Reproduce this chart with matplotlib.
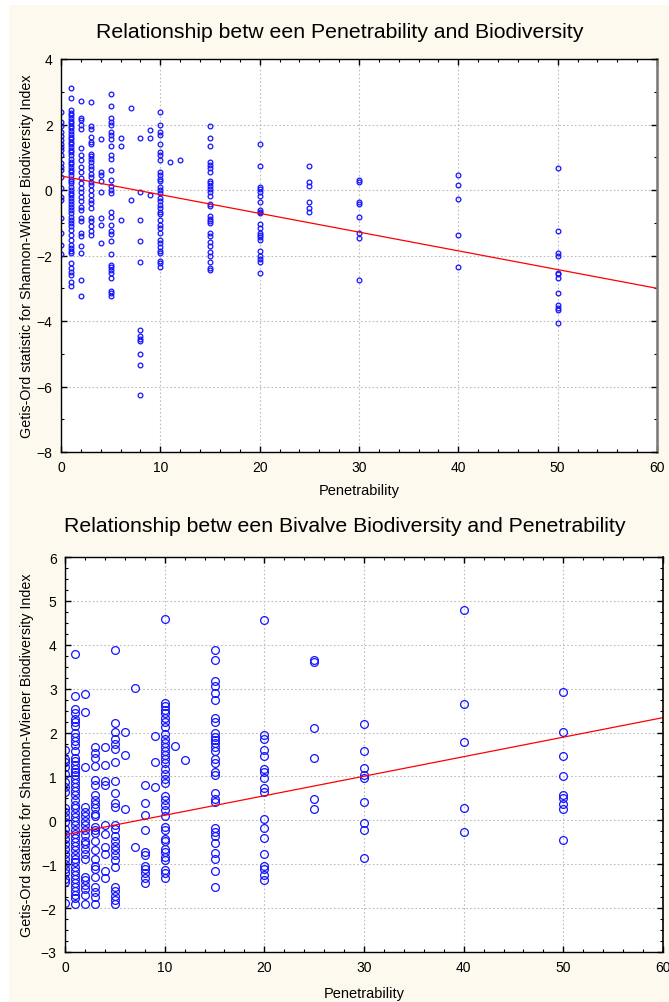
import numpy as np
import matplotlib
matplotlib.use('Agg')
import matplotlib.pyplot as plt
from matplotlib.patches import Rectangle
from matplotlib.ticker import MultipleLocator

plt.rcParams['font.family'] = ['Liberation Sans', 'DejaVu Sans']

# top chart: Gi* of Shannon-Wiener index vs penetrability
top_pen = [0, 1, 2, 3, 4, 5, 6, 7, 8, 9, 10, 11, 12, 15, 20, 25, 30, 40, 50]
top_gi = [
    [2.39, 2.09, 1.95, 1.77, 1.65, 1.52, 1.41, 1.31, 1.21, 1.08, 0.81, 0.71, 0.61, 0.40,
     0.05, -0.20, -0.30, -0.86, -1.31, -1.67, -1.95],
    [3.10, 2.80, 2.44, 2.36, 2.28, 2.19, 2.11, 2.04, 1.96, 1.88, 1.80, 1.71, 1.63, 1.56,
     1.48, 1.40, 1.31, 1.23, 1.15, 1.06, 0.96, 0.86, 0.78, 0.69, 0.61, 0.54, 0.46, 0.35,
     0.27, 0.20, 0.10, 0.00, -0.08, -0.15, -0.25, -0.35, -0.43, -0.51, -0.61, -0.71, -0.81,
     -0.91, -1.01, -1.11, -1.21, -1.36, -1.52, -1.67, -1.77, -1.87, -1.93, -2.24, -2.39,
     -2.49, -2.59, -2.80, -2.93],
    [2.73, 2.20, 2.14, 1.99, 1.87, 1.28, 1.08, 0.91, 0.71, 0.54, 0.37, 0.20, 0.07, -0.05,
     -0.20, -0.35, -0.51, -0.61, -0.86, -0.94, -1.31, -1.41, -1.72, -1.93, -2.75, -3.24],
    [2.68, 1.95, 1.87, 1.62, 1.48, 1.41, 1.11, 1.04, 0.94, 0.84, 0.74, 0.64, 0.50, 0.40,
     0.25, 0.15, 0.00, -0.15, -0.30, -0.40, -0.54, -0.86, -0.94, -1.11, -1.24, -1.36],
    [1.55, 0.56, 0.45, 0.27, -0.05, -0.84, -1.06, -1.62],
    [2.93, 2.56, 2.19, 2.09, 1.99, 1.77, 1.69, 1.57, 1.34, 1.06, 0.96, 0.61, 0.32, 0.13,
     0.00, -0.10, -0.66, -0.81, -1.06, -1.24, -1.34, -1.57, -1.96, -2.29, -2.36, -2.44,
     -2.52, -2.68, -3.09, -3.16, -3.24],
    [1.59, 1.34, -0.91],
    [2.49, -0.30],
    [1.59, -0.05, -0.91, -1.57, -2.19, -4.28, -4.45, -4.54, -4.62, -5.02, -5.33, -6.26],
    [1.84, 1.59, -0.15],
    [2.37, 1.99, 1.77, 1.69, 1.41, 1.16, 1.06, 0.91, 0.56, 0.47, 0.35, 0.27, 0.10, 0.00,
     -0.10, -0.23, -0.33, -0.45, -0.54, -0.66, -0.74, -0.91, -1.06, -1.16, -1.31, -1.52,
     -1.62, -1.75, -1.87, -1.93, -2.16, -2.24, -2.34],
    [0.86],
    [0.91],
    [1.94, 1.58, 1.33, 0.85, 0.77, 0.66, 0.54, 0.29, 0.21, 0.11, 0.03, -0.05, -0.17, -0.43,
     -0.50, -0.79, -0.89, -0.94, -1.01, -1.32, -1.40, -1.58, -1.70, -1.89, -2.01, -2.19,
     -2.37, -2.45],
    [1.39, 0.72, 0.08, 0.03, -0.05, -0.17, -0.38, -0.60, -0.66, -0.70, -1.04, -1.17, -1.32,
     -1.38, -1.45, -1.52, -1.86, -2.01, -2.11, -2.19, -2.52],
    [0.72, 0.23, 0.11, -0.38, -0.56, -0.68],
    [0.32, 0.23, -0.36, -0.43, -0.81, -1.30, -1.48, -2.76],
    [0.47, 0.16, -0.26, -1.37, -2.34],
    [0.66, -1.24, -1.91, -2.03, -2.52, -2.57, -2.70, -3.13, -3.51, -3.59, -3.66, -4.05],
]
top_fit = (0.43, -0.0572)   # intercept, slope

# bottom chart: bivalve Gi* vs penetrability
bot_pen = [0, 1, 2, 3, 4, 5, 6, 7, 8, 9, 10, 11, 12, 15, 20, 25, 30, 40, 50]
bot_gi = [
    [1.61, 1.40, 1.33, 1.21, 1.06, 0.87, 0.76, 0.65, 0.27, 0.19, 0.08, -0.04, -0.19, -0.30,
     -0.42, -0.53, -0.65, -0.76, -0.88, -0.99, -1.10, -1.21, -1.33, -1.40, -1.88],
    [3.79, 2.84, 2.53, 2.44, 2.32, 2.25, 2.15, 2.00, 1.89, 1.81, 1.71, 1.58, 1.43, 1.35,
     1.26, 1.18, 1.10, 1.04, 0.95, 0.86, 0.76, 0.66, 0.57, 0.46, 0.36, 0.27, 0.17, 0.08,
     -0.02, -0.11, -0.21, -0.30, -0.40, -0.49, -0.58, -0.68, -0.78, -0.87, -0.96, -1.06,
     -1.16, -1.25, -1.34, -1.42, -1.52, -1.62, -1.71, -1.78, -1.90],
    [2.88, 2.47, 1.22, 0.30, 0.19, 0.10, -0.02, -0.11, -0.23, -0.34, -0.46, -0.55, -0.66,
     -0.76, -0.87, -1.29, -1.37, -1.47, -1.56, -1.71, -1.90],
    [1.66, 1.54, 1.43, 1.24, 0.91, 0.81, 0.58, 0.46, 0.38, 0.28, 0.15, 0.10, -0.15, -0.21,
     -0.28, -0.46, -0.68, -0.87, -1.03, -1.10, -1.29, -1.52, -1.63, -1.75, -1.90],
    [1.66, 1.25, 0.89, 0.80, -0.10, -0.30, -0.61, -0.76, -1.16, -1.31],
    [3.89, 2.21, 2.02, 1.86, 1.73, 1.62, 1.33, 0.89, 0.62, 0.40, 0.30, -0.10, -0.19, -0.36,
     -0.46, -0.58, -0.68, -0.80, -0.91, -1.06, -1.52, -1.62, -1.72, -1.82, -1.90],
    [2.02, 1.48, 0.25],
    [3.01, -0.61],
    [0.80, 0.39, 0.13, -0.21, -0.72, -0.80, -1.04, -1.12, -1.21, -1.31, -1.42],
    [1.93, 1.34, 0.76],
    [4.58, 2.67, 2.60, 2.52, 2.44, 2.34, 2.25, 2.12, 1.96, 1.86, 1.77, 1.68, 1.58, 1.48,
     1.39, 1.30, 1.18, 1.06, 0.95, 0.84, 0.55, 0.46, 0.34, 0.23, 0.11, -0.15, -0.21, -0.42,
     -0.48, -0.65, -0.72, -0.84, -0.91, -1.14, -1.21, -1.31],
    [1.70],
    [1.38],
    [3.88, 3.66, 3.18, 3.06, 2.90, 2.74, 2.34, 2.24, 2.00, 1.91, 1.83, 1.76, 1.68, 1.58,
     1.39, 1.30, 1.09, 1.03, 0.62, 0.49, 0.42, -0.17, -0.27, -0.36, -0.52, -0.75, -0.89,
     -1.16, -1.53],
    [4.57, 1.94, 1.85, 1.60, 1.47, 1.16, 1.09, 0.97, 0.74, 0.65, 0.02, -0.17, -0.40, -0.76,
     -1.03, -1.10, -1.25, -1.36],
    [3.66, 3.61, 2.11, 1.43, 0.48, 0.25],
    [2.20, 1.57, 1.20, 1.03, 0.97, 0.42, -0.07, -0.21, -0.85],
    [4.80, 2.65, 1.79, 0.29, -0.27],
    [2.93, 2.01, 1.47, 1.01, 0.57, 0.52, 0.38, 0.25, -0.45],
]
bot_fit = (-0.33, 0.0445)

ylabel = 'Getis-Ord statistic for Shannon-Wiener Biodiversity Index'
cream = '#fdf9ee'


def flatten(pen, vals):
    xs, ys = [], []
    for p, col in zip(pen, vals):
        xs += [p] * len(col)
        ys += col
    return np.array(xs, float), np.array(ys, float)


def style_axes(ax, ylim, ymajor, yminor):
    ax.set_xlim(0, 60)
    ax.set_ylim(*ylim)
    ax.xaxis.set_major_locator(MultipleLocator(10))
    ax.xaxis.set_minor_locator(MultipleLocator(2))
    ax.yaxis.set_major_locator(MultipleLocator(ymajor))
    ax.yaxis.set_minor_locator(MultipleLocator(yminor))
    ax.tick_params(which='both', direction='in', top=True, right=True,
                   labelsize=10, colors='black')
    ax.tick_params(which='major', length=4, width=1, pad=6)
    ax.tick_params(which='minor', length=2.5, width=0.8)
    ax.grid(True, which='major', linestyle=(0, (1.5, 2)), color='#bdbdbd', linewidth=0.8)
    ax.set_axisbelow(True)
    for s in ax.spines.values():
        s.set_linewidth(1.0)
        s.set_color('black')
    ax.spines['right'].set_color('#777777')
    ax.spines['right'].set_linewidth(1.8)


fig = plt.figure(figsize=(6.69, 10.03), dpi=100, facecolor='white')
fig.patches.append(Rectangle((9 / 669, 0), 1, 1 - 6 / 1003, transform=fig.transFigure,
                             facecolor=cream, edgecolor='none', zorder=-10))

# top panel
ax1 = fig.add_axes([61 / 669, 1 - 453 / 1003, 596 / 669, 393 / 1003])
x, y = flatten(top_pen, top_gi)
ax1.plot(x, y, 'o', markersize=3.4, markerfacecolor='none',
         markeredgecolor='#1414ff', markeredgewidth=0.9)
lx = np.array([0, 60])
ax1.plot(lx, top_fit[0] + top_fit[1] * lx, color='red', linewidth=0.9)
style_axes(ax1, (-8, 4), 2, 1)
ax1.set_xlabel('Penetrability', fontsize=10.5)
ax1.xaxis.set_label_coords(0.5, -0.079)
ax1.set_ylabel(ylabel, fontsize=10.3)
ax1.yaxis.set_label_coords(-0.057, 0.5)
ax1.yaxis.label.set_va('center')
fig.text(340 / 669, 1 - 32 / 1003, 'Relationship betw een Penetrability and Biodiversity',
         ha='center', va='center', fontsize=15.3)

# bottom panel
ax2 = fig.add_axes([65 / 669, 1 - 953 / 1003, 598 / 669, 395 / 1003])
x, y = flatten(bot_pen, bot_gi)
ax2.plot(x, y, 'o', markersize=5.6, markerfacecolor='none',
         markeredgecolor='#1414ff', markeredgewidth=0.9)
ax2.plot(lx, bot_fit[0] + bot_fit[1] * lx, color='red', linewidth=0.9)
style_axes(ax2, (-3, 6), 1, 0.25)
ax2.spines['right'].set_color('black')
ax2.spines['right'].set_linewidth(1.2)
ax2.set_xlabel('Penetrability', fontsize=10.5)
ax2.xaxis.set_label_coords(0.5, -0.086)
ax2.set_ylabel(ylabel, fontsize=10.3)
ax2.yaxis.set_label_coords(-0.0635, 0.5)
ax2.yaxis.label.set_va('center')
fig.text(345 / 669, 1 - 527 / 1003,
         'Relationship betw een Bivalve Biodiversity and Penetrability',
         ha='center', va='center', fontsize=15.3)

fig.savefig('out.png', dpi=100, facecolor=fig.get_facecolor())
